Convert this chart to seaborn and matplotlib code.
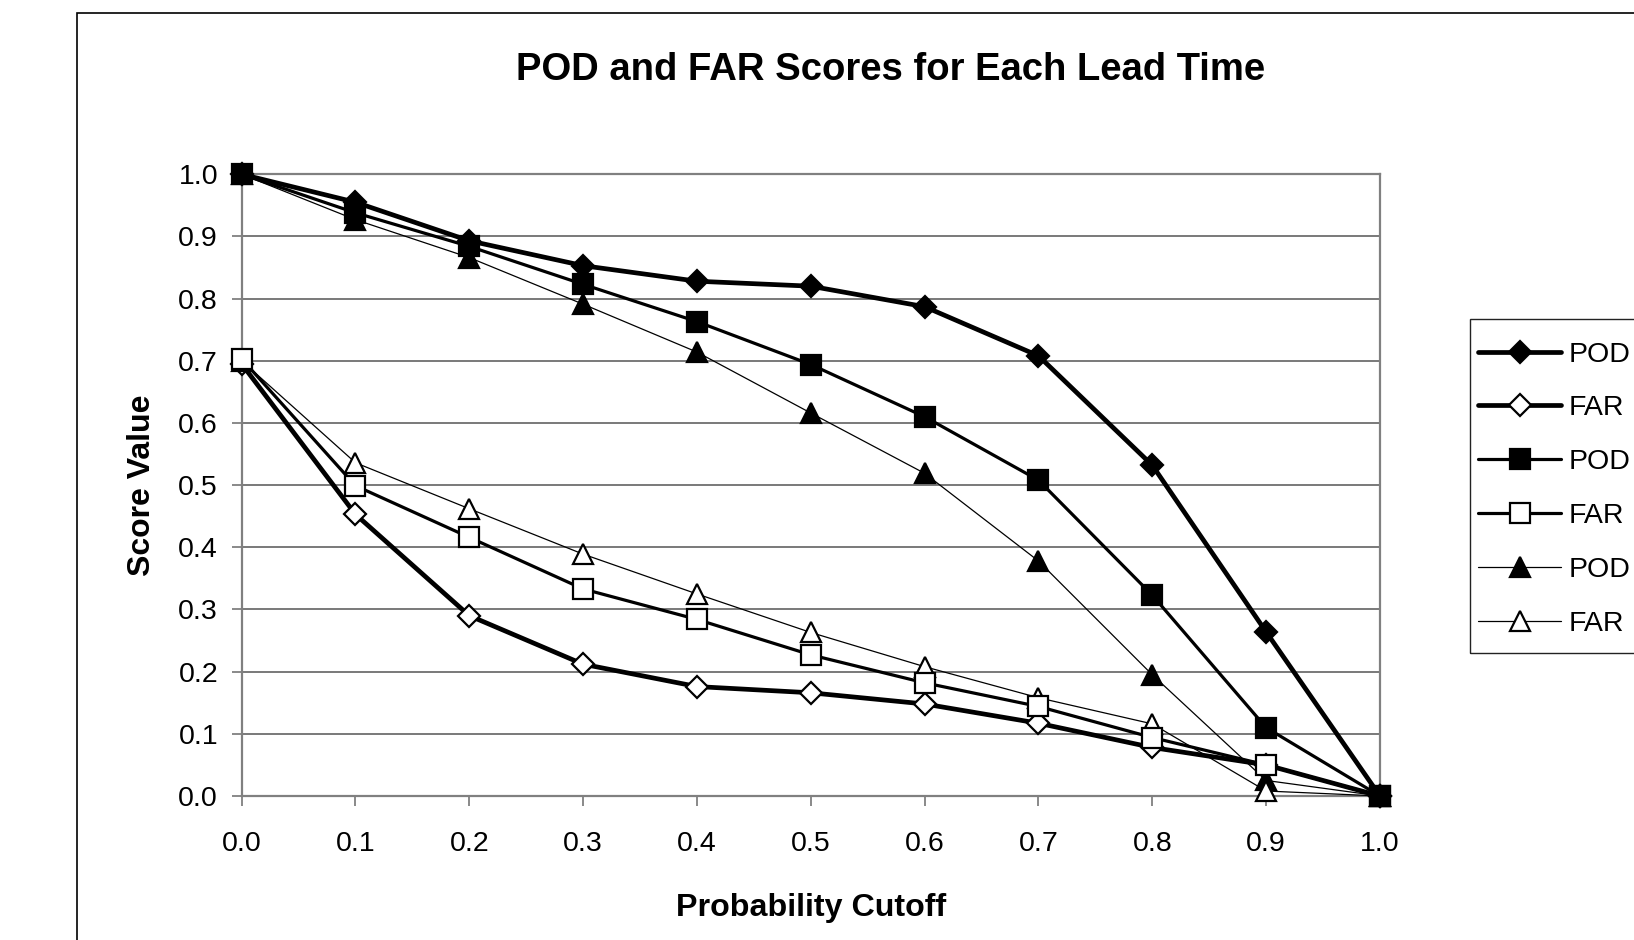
import matplotlib
matplotlib.use("Agg")
import matplotlib.pyplot as plt
from matplotlib.patches import Rectangle
import numpy as np
import pandas as pd
import seaborn as sns

# Probability cutoffs and scores for three lead times
cutoffs = [0.0, 0.1, 0.2, 0.3, 0.4, 0.5, 0.6, 0.7, 0.8, 0.9, 1.0]
pod_1 = [1.0, 0.955, 0.893, 0.853, 0.828, 0.820, 0.787, 0.708, 0.532, 0.264, 0.0]
far_1 = [0.695, 0.453, 0.290, 0.212, 0.176, 0.166, 0.148, 0.117, 0.078, 0.050, 0.0]
pod_2 = [1.0, 0.938, 0.884, 0.823, 0.763, 0.694, 0.610, 0.508, 0.323, 0.110, 0.0]
far_2 = [0.703, 0.499, 0.416, 0.333, 0.284, 0.227, 0.182, 0.144, 0.094, 0.050, 0.0]
pod_3 = [1.0, 0.927, 0.866, 0.791, 0.714, 0.616, 0.519, 0.378, 0.195, 0.025, 0.0]
far_3 = [0.700, 0.536, 0.462, 0.389, 0.325, 0.263, 0.208, 0.158, 0.116, 0.008, 0.0]

series_names = ["POD", "FAR", "POD", "FAR", "POD", "FAR"]
x_ticks = [0.0, 0.1, 0.2, 0.3, 0.4, 0.5, 0.6, 0.7, 0.8, 0.9, 1.0]
y_ticks = [0.0, 0.1, 0.2, 0.3, 0.4, 0.5, 0.6, 0.7, 0.8, 0.9, 1.0]

sns.set_style("white")
plt.rcParams["font.family"] = ["Liberation Sans", "DejaVu Sans"]
plt.rcParams["text.color"] = "black"
plt.rcParams["axes.labelcolor"] = "black"
plt.rcParams["xtick.color"] = "black"
plt.rcParams["ytick.color"] = "black"

fig = plt.figure(figsize=(16.34, 9.40), dpi=100)
ax = fig.add_axes([0.1479, 0.1532, 0.6966, 0.6614])

# (values, marker, face colour, line width, marker size, stacking order)
styles = [
    (pod_1, "D", "black", 3.4, 11.0, 3.0),
    (far_1, "D", "white", 3.4, 11.0, 3.1),
    (pod_2, "s", "black", 2.3, 14.0, 3.5),
    (far_2, "s", "white", 2.3, 14.0, 3.4),
    (pod_3, "^", "black", 0.9, 15.0, 3.2),
    (far_3, "^", "white", 0.9, 15.0, 3.3),
]

for (vals, mk, fc, lw, ms, z), name in zip(styles, series_names):
    df = pd.DataFrame({"cutoff": cutoffs, "score": vals})
    sns.lineplot(data=df, x="cutoff", y="score", ax=ax, color="black",
                 linewidth=lw, marker=mk, markersize=ms,
                 markerfacecolor=fc, markeredgecolor="black",
                 markeredgewidth=1.6, label=name, clip_on=False, zorder=z)

ax.set_xlim(0, 1.0)
ax.set_ylim(0, 1.0)
ax.set_xticks(x_ticks)
ax.set_yticks(y_ticks)
ax.set_xticklabels([f"{v:.1f}" for v in x_ticks])
ax.set_yticklabels([f"{v:.1f}" for v in y_ticks])
ax.yaxis.grid(True, color="#555555", linewidth=1.1)
ax.xaxis.grid(False)
ax.set_axisbelow(True)

for side in ["left", "bottom", "right", "top"]:
    ax.spines[side].set_visible(True)
    ax.spines[side].set_color("#808080")
    ax.spines[side].set_linewidth(1.6)

ax.tick_params(axis="both", which="major", direction="out", length=7,
               width=1.3, color="#808080", labelsize=20.5,
               labelcolor="black", left=True, bottom=True)
ax.tick_params(axis="x", pad=18)
ax.tick_params(axis="y", pad=10)

ax.set_xlabel("Probability Cutoff", fontsize=23.2, fontweight="bold", labelpad=26)
ax.set_ylabel("Score Value", fontsize=23, fontweight="bold", labelpad=15.5)

fig.text(0.5453, 0.926, "POD and FAR Scores for Each Lead Time",
         ha="center", va="center", fontsize=27.5, fontweight="bold")

# Legend box: frame drawn separately so its size can be set directly
box_left, box_top, box_bottom = 1470 / 1634, 1 - 319 / 940, 1 - 653 / 940
leg = ax.legend(loc="upper left",
                bbox_to_anchor=(box_left + 0.0052, box_top - 0.024),
                bbox_transform=fig.transFigure, borderaxespad=0,
                frameon=False, fontsize=20.5,
                handlelength=2.9, handletextpad=0.25, labelspacing=0.98,
                borderpad=0.0, markerscale=1.0)
fig.patches.append(Rectangle((box_left, box_bottom), 0.3, box_top - box_bottom,
                             transform=fig.transFigure, fill=False,
                             edgecolor="#222222", linewidth=1.0))

# Outer chart border running off the right and bottom edges
fig.patches.append(Rectangle((77 / 1634, -0.05), 1.2, 1 - 13 / 940 + 0.05,
                             transform=fig.transFigure, fill=False,
                             edgecolor="black", linewidth=1.2))

fig.savefig("out.png", dpi=100)
